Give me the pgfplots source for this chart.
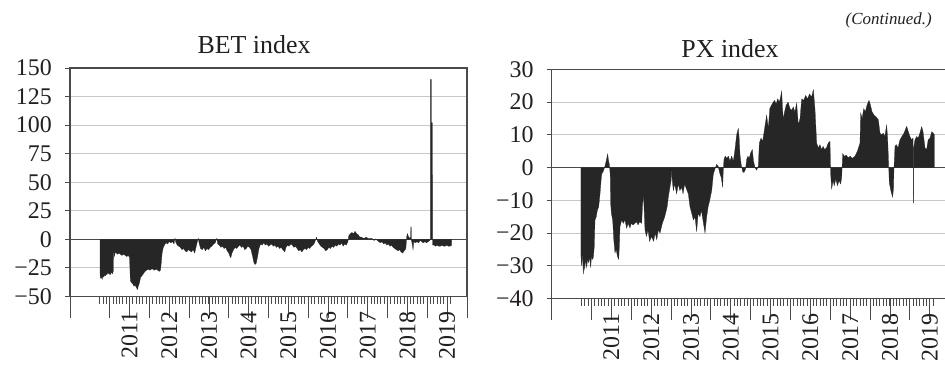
\documentclass[border=0pt]{standalone}
\usepackage{fontspec}
\setmainfont{Liberation Serif}
\usepackage{pgfplots}
\pgfplotsset{compat=1.18}
\definecolor{barc}{HTML}{262626}
\definecolor{axc}{HTML}{4A4A4A}
\definecolor{gridc}{HTML}{C8C8C8}
\definecolor{txt}{HTML}{231F20}
\pgfplotsset{
  common/.style={
    scale only axis,
    anchor=south west,
    axis line style={axc, line width=1.1bp},
    tick style={axc, line width=0.9bp},
    ymajorgrids, grid style={gridc, line width=0.9bp},
    tick align=outside,
    ytick pos=left, xtick pos=bottom,
    major tick length=5bp,
    minor tick length=7bp,
    xtick={2010,2011,...,2020}, xticklabels={},
    xtick style={/pgfplots/major tick length=21bp},
    extra x ticks={2011.5,2012.5,2013.5,2014.5,2015.5,2016.5,2017.5,2018.5,2019.5},
    extra x tick labels={2011,2012,2013,2014,2015,2016,2017,2018,2019},
    extra x tick style={/pgfplots/major tick length=0pt},
    minor xtick={2010.75,2010.8333,...,2019.6},
    ticklabel style={font=\fontsize{24}{28}\selectfont, text=txt},
    xticklabel style={rotate=90, anchor=east, inner sep=0pt},
    yticklabel style={anchor=east, inner sep=0pt},
    xticklabel shift=15bp,
    yticklabel shift=13bp,
    extra y ticks={0}, extra y tick labels={},
    extra y tick style={grid style={axc, line width=1.2bp}, /pgfplots/major tick length=0pt},
  },
  area/.style={barc, fill=barc, line width=0.25bp},
}
\begin{document}
\begin{tikzpicture}
\begin{axis}[common, at={(70bp,71.5bp)}, width=397bp, height=228.5bp,
  xmin=2010, xmax=2020, ymin=-50, ymax=150,
  ytick={-50,-25,0,25,50,75,100,125,150},
  yticklabels={−50,−25,0,25,50,75,100,125,150}]
\addplot[area] coordinates {
(2010.756,-31) (2010.77,-34) (2010.79,-33) (2010.81,-35) (2010.83,-32) (2010.85,-33)
(2010.87,-31) (2010.89,-32) (2010.91,-30) (2010.93,-31) (2010.95,-29) (2010.97,-30)
(2010.99,-30) (2011.01,-31) (2011.04,-29) (2011.07,-30) (2011.09,-28) (2011.10,-9)
(2011.12,-15) (2011.14,-11) (2011.17,-12) (2011.20,-13) (2011.23,-12) (2011.27,-13)
(2011.31,-14) (2011.35,-13) (2011.39,-14) (2011.43,-15) (2011.47,-14) (2011.50,-16)
(2011.52,-36) (2011.55,-38) (2011.58,-39) (2011.61,-41) (2011.64,-40) (2011.67,-42)
(2011.70,-44) (2011.72,-41) (2011.75,-38) (2011.78,-33) (2011.81,-32) (2011.85,-30)
(2011.89,-28) (2011.93,-27) (2011.97,-26) (2012.01,-27) (2012.05,-26) (2012.09,-26)
(2012.13,-27) (2012.17,-26) (2012.21,-27) (2012.25,-28) (2012.28,-27) (2012.30,-20)
(2012.32,-12) (2012.35,-7) (2012.38,-5) (2012.42,-3) (2012.46,-4) (2012.50,-2)
(2012.54,-3) (2012.58,-2) (2012.62,-4) (2012.645,1) (2012.66,-2) (2012.70,-5)
(2012.74,-6) (2012.78,-7) (2012.82,-9) (2012.86,-8) (2012.90,-10) (2012.94,-11)
(2012.98,-9) (2013.02,-10) (2013.06,-11) (2013.10,-9) (2013.14,-12) (2013.18,-6)
(2013.23,1) (2013.25,-3) (2013.29,-8) (2013.33,-9) (2013.37,-7) (2013.41,-10)
(2013.45,-8) (2013.49,-9) (2013.53,-7) (2013.57,-6) (2013.62,-4) (2013.66,-3)
(2013.70,1) (2013.72,-4) (2013.76,-5) (2013.80,-7) (2013.84,-6) (2013.88,-8)
(2013.92,-7) (2013.96,-10) (2014.00,-12) (2014.03,-15) (2014.05,-16) (2014.08,-12)
(2014.12,-9) (2014.16,-7) (2014.20,-8) (2014.24,-6) (2014.28,-5) (2014.32,-7)
(2014.36,-6) (2014.40,-9) (2014.44,-8) (2014.48,-6) (2014.52,-7) (2014.56,-9)
(2014.60,-15) (2014.63,-20) (2014.66,-22) (2014.69,-21) (2014.72,-16) (2014.76,-8)
(2014.80,-4) (2014.84,-5) (2014.88,-3) (2014.92,-5) (2014.96,-4) (2015.00,-6)
(2015.04,-5) (2015.08,-4) (2015.12,-6) (2015.16,-5) (2015.20,-7) (2015.24,-6)
(2015.28,-8) (2015.32,-7) (2015.36,-9) (2015.41,-11) (2015.44,-7) (2015.48,-5)
(2015.52,-6) (2015.56,-4) (2015.60,-5) (2015.64,-7) (2015.68,-6) (2015.72,-8)
(2015.76,-10) (2015.80,-9) (2015.84,-11) (2015.88,-9) (2015.92,-8) (2015.96,-9)
(2016.00,-7) (2016.04,-8) (2016.08,-6) (2016.12,-5) (2016.16,-3) (2016.21,2)
(2016.24,-2) (2016.28,-4) (2016.32,-6) (2016.36,-7) (2016.40,-8) (2016.44,-10)
(2016.48,-9) (2016.52,-7) (2016.56,-8) (2016.60,-6) (2016.64,-7) (2016.68,-5)
(2016.72,-6) (2016.76,-4) (2016.80,-5) (2016.84,-3) (2016.88,-6) (2016.92,-4)
(2016.96,-5) (2017.00,-2) (2017.02,3) (2017.06,5) (2017.10,6) (2017.14,5)
(2017.18,7) (2017.22,5) (2017.26,4) (2017.30,2) (2017.34,2) (2017.38,1)
(2017.42,1) (2017.46,2) (2017.50,1) (2017.54,0.5) (2017.58,1) (2017.62,0.5)
(2017.66,-1) (2017.70,0.5) (2017.74,-1) (2017.78,-2) (2017.82,-3) (2017.86,-2)
(2017.90,-4) (2017.94,-3) (2017.98,-5) (2018.02,-4) (2018.06,-6) (2018.10,-5)
(2018.14,-7) (2018.18,-8) (2018.22,-9) (2018.26,-10) (2018.30,-9) (2018.34,-11)
(2018.38,-12) (2018.42,-10) (2018.46,-8) (2018.48,2) (2018.50,5) (2018.53,2)
(2018.56,1) (2018.58,2) (2018.585,11) (2018.595,11) (2018.60,-1) (2018.62,-4)
(2018.64,-9) (2018.66,-2) (2018.70,-3) (2018.74,-2) (2018.78,-3) (2018.82,-1)
(2018.86,-2) (2018.90,-3) (2018.94,-2) (2018.98,-3) (2019.02,-2) (2019.06,-1)
(2019.078,0) (2019.080,140) (2019.100,140) (2019.102,102) (2019.130,102) (2019.132,-5)
(2019.17,-5) (2019.21,-6) (2019.25,-5) (2019.29,-6) (2019.33,-6) (2019.37,-5)
(2019.41,-6) (2019.45,-6) (2019.49,-5) (2019.53,-6) (2019.57,-6) (2019.615,-5)
} \closedcycle;
\end{axis}
\begin{axis}[common, at={(551.7bp,69.3bp)}, width=394.8bp, height=229.4bp,
  xmin=2010, xmax=2019.92, ymin=-40, ymax=30,
  ytick={-40,-30,-20,-10,0,10,20,30},
  yticklabels={−40,−30,−20,−10,0,10,20,30}]
\addplot[area] coordinates {
(2010.736,-27) (2010.75,-30) (2010.77,-26) (2010.795,-32.5) (2010.81,-29) (2010.83,-31)
(2010.85,-28) (2010.879,-30.5) (2010.90,-28) (2010.93,-29) (2010.95,-27) (2010.979,-30.5)
(2011.00,-27) (2011.02,-28) (2011.046,-27.5) (2011.07,-24) (2011.088,-16) (2011.12,-15)
(2011.147,-13) (2011.18,-12) (2011.214,-8) (2011.24,-4) (2011.256,-2) (2011.30,-1)
(2011.339,0.5) (2011.37,2) (2011.406,4.2) (2011.43,2) (2011.448,1) (2011.47,-2)
(2011.482,-11) (2011.50,-14) (2011.532,-16) (2011.56,-22) (2011.59,-26) (2011.62,-25)
(2011.65,-27) (2011.683,-28) (2011.70,-24) (2011.716,-18) (2011.76,-16) (2011.80,-17)
(2011.84,-16) (2011.884,-18.5) (2011.92,-17) (2011.967,-18.4) (2012.00,-17) (2012.04,-17.5)
(2012.093,-17) (2012.13,-16.5) (2012.17,-17.5) (2012.21,-16.5) (2012.261,-17) (2012.28,-12)
(2012.302,-8) (2012.32,-12) (2012.344,-19) (2012.38,-21) (2012.42,-19) (2012.46,-22.5)
(2012.512,-21) (2012.56,-22.5) (2012.60,-20) (2012.64,-22) (2012.68,-19) (2012.721,-20)
(2012.78,-17) (2012.84,-15) (2012.90,-12) (2012.93,-9) (2012.97,-6) (2013.00,-4)
(2013.014,0) (2013.03,-4) (2013.056,-7) (2013.09,-5) (2013.14,-8) (2013.18,-5)
(2013.22,-7) (2013.266,-6) (2013.30,-8) (2013.34,-5) (2013.40,-7) (2013.433,-8)
(2013.475,-12) (2013.52,-14) (2013.56,-16) (2013.60,-15) (2013.642,-19.5) (2013.68,-14)
(2013.726,-15) (2013.76,-13) (2013.80,-16) (2013.852,-20) (2013.894,-15) (2013.93,-12)
(2013.97,-10) (2014.02,-7) (2014.061,-2) (2014.10,-0.5) (2014.145,1) (2014.18,0.5)
(2014.229,-2) (2014.26,-3) (2014.296,-6) (2014.31,-1) (2014.329,2.5) (2014.36,3.5)
(2014.40,2.8) (2014.438,3.5) (2014.48,2) (2014.52,3.5) (2014.564,2) (2014.60,5)
(2014.647,10) (2014.689,12) (2014.71,9) (2014.731,4) (2014.76,1) (2014.798,-1.2)
(2014.83,-1.5) (2014.87,-0.5) (2014.899,2.5) (2014.93,3.5) (2014.96,2.8) (2015.00,4.5)
(2015.041,5.5) (2015.07,2) (2015.108,0) (2015.15,-0.8) (2015.192,0.5) (2015.217,7.5)
(2015.26,9) (2015.30,8) (2015.35,12) (2015.401,16) (2015.443,12) (2015.48,18)
(2015.52,19) (2015.569,20) (2015.60,20.5) (2015.64,19.5) (2015.68,21) (2015.72,20)
(2015.75,21.5) (2015.778,23.3) (2015.80,18) (2015.820,14.6) (2015.85,17) (2015.89,19)
(2015.94,20) (2015.987,18) (2016.03,17.5) (2016.07,18.5) (2016.11,17) (2016.155,19.7)
(2016.197,13) (2016.24,15) (2016.281,21) (2016.33,20.5) (2016.38,22) (2016.43,21)
(2016.48,22.5) (2016.53,21.5) (2016.574,23.8) (2016.616,17.7) (2016.657,7.5) (2016.70,6)
(2016.74,7) (2016.78,5.5) (2016.82,6.5) (2016.86,5.5) (2016.90,6) (2016.95,7.5)
(2016.992,8) (2017.01,-2) (2017.034,-6.5) (2017.07,-4) (2017.10,-5.5) (2017.14,-3.5)
(2017.18,-5.5) (2017.22,-4) (2017.26,-5) (2017.286,-3) (2017.311,4.3) (2017.35,3.5)
(2017.40,3.8) (2017.45,3) (2017.50,3.5) (2017.55,2.8) (2017.621,3.5) (2017.68,5)
(2017.72,6.5) (2017.746,7.5) (2017.763,16.7) (2017.80,15) (2017.84,18) (2017.88,17)
(2017.92,19) (2017.972,20.5) (2018.00,19.5) (2018.05,17) (2018.10,16) (2018.15,15.5)
(2018.207,14.6) (2018.249,10.5) (2018.29,10) (2018.33,10.5) (2018.37,9.5) (2018.416,13)
(2018.44,9) (2018.458,3.5) (2018.483,-4.7) (2018.53,-7.5) (2018.567,-9) (2018.59,-6)
(2018.600,0) (2018.626,6.5) (2018.66,7) (2018.70,6) (2018.751,8.5) (2018.80,9.5)
(2018.85,10.5) (2018.919,12.6) (2018.96,11) (2019.00,9.5) (2019.04,8.5) (2019.080,9)
(2019.084,-10.8) (2019.090,-10.8) (2019.094,6) (2019.128,8.5) (2019.17,9.5) (2019.21,9)
(2019.25,10.5) (2019.296,12.5) (2019.33,11) (2019.380,6) (2019.42,5.5) (2019.46,8.5)
(2019.505,9) (2019.55,11) (2019.59,10.5) (2019.614,10)
} \closedcycle;
\end{axis}
\node[anchor=base, inner sep=0pt, text=txt, font=\fontsize{26}{30}\selectfont] at (254bp,314bp) {BET index};
\node[anchor=base, inner sep=0pt, text=txt, font=\fontsize{26}{30}\selectfont] at (730bp,310.7bp) {PX index};
\node[anchor=base east, inner sep=0pt, text=txt, font=\fontsize{17}{20}\selectfont\itshape] at (932bp,343bp) {(Continued.)};
\pgfresetboundingbox
\useasboundingbox (0,0) rectangle (945bp,368bp);
\end{tikzpicture}
\end{document}
